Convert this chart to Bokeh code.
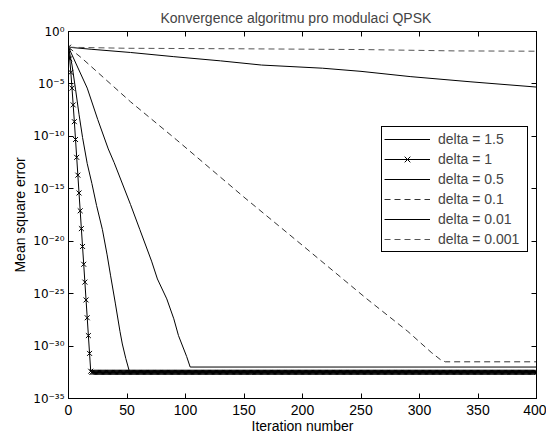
from bokeh.plotting import figure
from bokeh.models import (LinearAxis, LogAxis, FixedTicker, CustomJSTickFormatter,
                          Range1d, Legend, LegendItem)
from bokeh.embed import file_html
from bokeh.resources import INLINE

# ---- data: iteration number and log10(MSE) ----
x_ticks = [0, 50, 100, 150, 200, 250, 300, 350, 400]
y_tick_exps = [0, -5, -10, -15, -20, -25, -30, -35]

iter_d15 = [0, 3, 6, 9, 12, 16, 20, 24, 29, 33, 36, 40, 44, 46, 49, 52, 400]
exp_d15 = [-1.5, -3.2, -5.5, -7.9, -10.1, -12.6, -14.5, -16.6, -18.9, -21.3,
           -23.3, -25.9, -28.6, -29.8, -31.2, -32.4, -32.4]

exp_d1_fall = [-1.5, -2.6, -3.9, -5.4, -7.0, -8.6, -10.3, -12.0, -13.7, -15.4,
               -17.1, -18.8, -20.5, -22.2, -23.9, -25.6, -27.3, -29.0, -30.7, -32.4]
exp_d1_floor = -32.5
last_iter = 400

iter_d05 = [0, 16, 25, 34, 39, 53, 61, 71, 76, 84, 90, 94, 101, 104, 400]
exp_d05 = [-1.5, -5.4, -8.4, -11.2, -12.5, -16.5, -18.9, -21.9, -23.6, -25.5,
           -27.4, -29.0, -31.0, -32.0, -32.0]

iter_d01 = [0, 12, 53, 92, 150, 200, 255, 290, 310, 318, 322, 400]
exp_d01 = [-1.5, -2.6, -6.7, -10.3, -15.8, -20.4, -25.5, -28.6, -30.6, -31.3,
           -31.5, -31.5]

iter_d001 = [0, 20, 53, 90, 130, 165, 217, 250, 292, 344, 400]
exp_d001 = [-1.5, -1.7, -2.0, -2.4, -2.8, -3.2, -3.5, -3.8, -4.3, -4.8, -5.3]

iter_d0001 = [0, 50, 150, 250, 330, 400]
exp_d0001 = [-1.5, -1.6, -1.65, -1.72, -1.85, -1.88]

labels = ["delta = 1.5", "delta = 1", "delta = 0.5", "delta = 0.1",
          "delta = 0.01", "delta = 0.001"]


def pw(exps):
    return [10.0 ** e for e in exps]


iter_d1 = list(range(0, last_iter + 1))
exp_d1 = exp_d1_fall + [exp_d1_floor] * (len(iter_d1) - len(exp_d1_fall))

FONT = "Liberation Sans"
FS = "14px"

p = figure(width=546, height=436, x_range=Range1d(0, 400),
           y_range=Range1d(1e-35, 1), y_axis_type="log",
           output_backend="svg", toolbar_location=None,
           min_border_left=68, min_border_right=10, min_border_top=31,
           min_border_bottom=36)

p.title.text = "Konvergence algoritmu pro modulaci QPSK"
p.title.align = "left"
p.title.offset = 92
p.title.standoff = 12
p.title.text_font = FONT
p.title.text_font_size = FS
p.title.text_font_style = "normal"

p.xgrid.grid_line_color = None
p.ygrid.grid_line_color = None
p.outline_line_color = "black"
p.outline_line_alpha = 1
p.outline_line_width = 1

sup_code = """
const e = Math.round(Math.log10(tick));
const m = {"0":"\u2070","1":"\u00b9","2":"\u00b2","3":"\u00b3","4":"\u2074",
           "5":"\u2075","6":"\u2076","7":"\u2077","8":"\u2078","9":"\u2079","-":"\u207b"};
let s = "";
for (const c of String(e)) { s += m[c]; }
return "10" + s;
"""

xt = FixedTicker(ticks=x_ticks, minor_ticks=[])
yt = FixedTicker(ticks=[10.0 ** e for e in y_tick_exps], minor_ticks=[])

for ax in p.xaxis:
    ax.ticker = xt
for ax in p.yaxis:
    ax.ticker = yt
    ax.formatter = CustomJSTickFormatter(code=sup_code)

for ax in list(p.xaxis) + list(p.yaxis):
    ax.major_tick_in = 5
    ax.major_tick_out = 0
    ax.minor_tick_line_color = None
    ax.axis_line_color = "black"
    ax.major_tick_line_color = "black"
    ax.major_label_text_font = FONT
    ax.major_label_text_font_size = FS
    ax.major_label_text_color = "black"
    ax.axis_label_text_font = FONT
    ax.axis_label_text_font_size = FS
    ax.axis_label_text_font_style = "normal"
    ax.axis_label_text_color = "black"

p.yaxis.major_label_text_font = "DejaVu Sans"
p.yaxis.major_label_text_font_size = "12px"
p.xaxis.axis_label = "Iteration number"
p.yaxis.axis_label = "Mean square error"
p.xaxis.major_label_standoff = 6
p.xaxis.axis_label_standoff = 0
p.yaxis.major_label_standoff = 4
p.yaxis.axis_label_standoff = 2

empty = CustomJSTickFormatter(code="return '';")
top = LinearAxis(ticker=xt, formatter=empty, major_tick_in=5, major_tick_out=0,
                 minor_tick_line_color=None, major_label_standoff=0,
                 major_label_text_font_size="0px", axis_line_color="black")
right = LogAxis(ticker=yt, formatter=empty, major_tick_in=5, major_tick_out=0,
                minor_tick_line_color=None, major_label_standoff=0,
                major_label_text_font_size="0px", axis_line_color="black")
p.add_layout(top, "above")
p.add_layout(right, "right")

DASH = "6 4"
r15 = p.line(iter_d15, pw(exp_d15), line_color="black", line_width=1)
r1l = p.line(iter_d1, pw(exp_d1), line_color="black", line_width=1)
r1s = p.scatter(iter_d1, pw(exp_d1), marker="x", size=7, line_color="black",
                line_width=1)
r05 = p.line(iter_d05, pw(exp_d05), line_color="black", line_width=1)
r01 = p.line(iter_d01, pw(exp_d01), line_color="#333333", line_width=1,
             line_dash=DASH)
r001 = p.line(iter_d001, pw(exp_d001), line_color="black", line_width=1)
r0001 = p.line(iter_d0001, pw(exp_d0001), line_color="#555555", line_width=1,
               line_dash=DASH)

items = [LegendItem(label=labels[0], renderers=[r15]),
         LegendItem(label=labels[1], renderers=[r1l, r1s]),
         LegendItem(label=labels[2], renderers=[r05]),
         LegendItem(label=labels[3], renderers=[r01]),
         LegendItem(label=labels[4], renderers=[r001]),
         LegendItem(label=labels[5], renderers=[r0001])]

legend = Legend(items=items, location=(313, 146), padding=2, spacing=0,
                margin=0, glyph_height=20, glyph_width=46, label_height=20,
                label_standoff=8, label_width=87,
                label_text_font=FONT, label_text_font_size=FS,
                border_line_color="black", border_line_alpha=1,
                border_line_width=1, background_fill_color="white",
                background_fill_alpha=1)
p.add_layout(legend)

open("out.html", "w").write(file_html(p, INLINE))
